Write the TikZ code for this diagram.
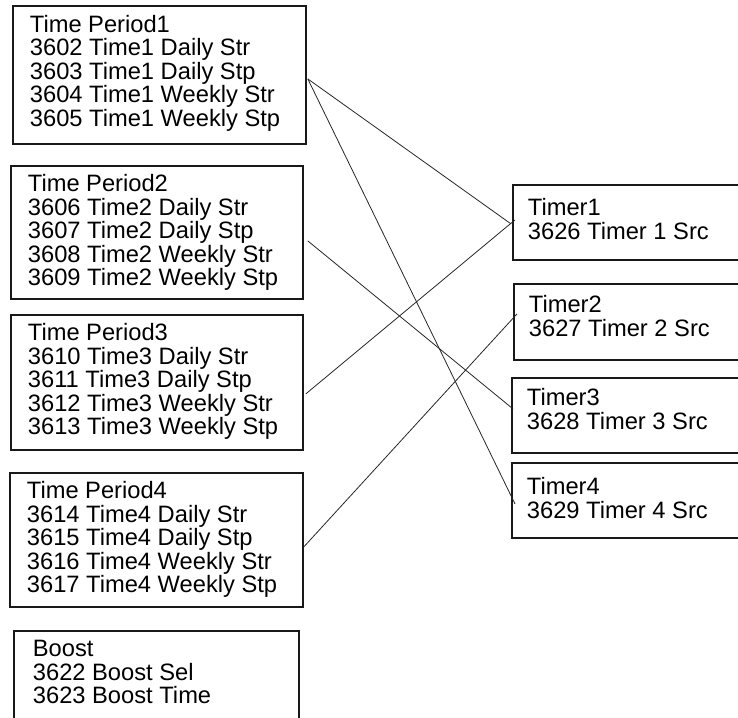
\documentclass[tikz,border=0pt]{standalone}
\usepackage{fontspec}
\setmainfont{Liberation Sans}
\newcommand\bxtext[5]{\parbox[c][#2][t]{#1}{\fontsize{23.7}{23.5}\selectfont\raggedright\leftskip=#3\relax\rule{0pt}{#4}#5\par}}
\tikzset{
  box/.style={draw=black!90, line width=1.8pt, inner sep=0pt, anchor=north west},
  wire/.style={draw=black!85, line width=0.8pt}
}
\begin{document}
\begin{tikzpicture}[x=1pt,y=-1pt]
\useasboundingbox (0,0) rectangle (738,717);
\node[box] (b1) at (12,5)   {\bxtext{293pt}{138pt}{17pt}{26.5pt}{Time Period1\\3602 Time1 Daily Str\\3603 Time1 Daily Stp\\3604 Time1 Weekly Str\\3605 Time1 Weekly Stp}};
\node[box] (b2) at (10,165) {\bxtext{292pt}{133pt}{17pt}{26pt}{Time Period2\\3606 Time2 Daily Str\\3607 Time2 Daily Stp\\3608 Time2 Weekly Str\\3609 Time2 Weekly Stp}};
\node[box] (b3) at (10,314) {\bxtext{292pt}{135pt}{17pt}{26pt}{Time Period3\\3610 Time3 Daily Str\\3611 Time3 Daily Stp\\3612 Time3 Weekly Str\\3613 Time3 Weekly Stp}};
\node[box] (b4) at (9,472)  {\bxtext{293pt}{134pt}{17pt}{26pt}{Time Period4\\3614 Time4 Daily Str\\3615 Time4 Daily Stp\\3616 Time4 Weekly Str\\3617 Time4 Weekly Stp}};
\node[box] (bb) at (13,630) {\bxtext{285pt}{130pt}{19pt}{26pt}{Boost\\3622 Boost Sel\\3623 Boost Time}};
\node[box] (t1) at (512,184) {\bxtext{260pt}{75pt}{15pt}{31pt}{Timer1\\3626 Timer 1 Src}};
\node[box] (t2) at (513,283) {\bxtext{260pt}{76pt}{15pt}{29pt}{Timer2\\3627 Timer 2 Src}};
\node[box] (t3) at (511,377) {\bxtext{260pt}{75pt}{15pt}{28pt}{Timer3\\3628 Timer 3 Src}};
\node[box] (t4) at (511,462) {\bxtext{260pt}{75pt}{15pt}{32pt}{Timer4\\3629 Timer 4 Src}};
\draw[wire] ([xshift=1pt,yshift=-4pt]b1.east) -- ([xshift=-1pt,yshift=-1.5pt]t1.west);
\draw[wire] ([xshift=1pt,yshift=-4pt]b1.east) -- ([xshift=4pt,yshift=-3.5pt]t4.west);
\draw[wire] ([xshift=4pt,yshift=-8.5pt]b2.east) -- ([xshift=2pt,yshift=6.5pt]t3.west);
\draw[wire] ([xshift=2pt,yshift=-11.5pt]b3.east) -- ([xshift=3pt,yshift=2.5pt]t1.west);
\draw[wire] ([xshift=0pt,yshift=-7pt]b4.east) -- ([xshift=4pt,yshift=8pt]t2.west);
\end{tikzpicture}
\end{document}
